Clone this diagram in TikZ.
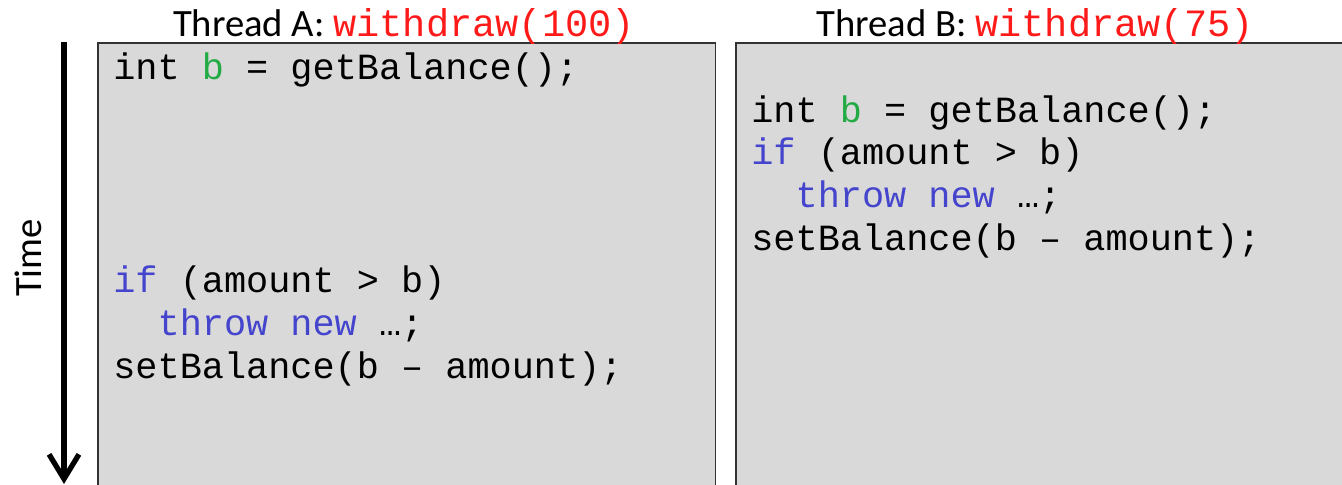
\documentclass[tikz,border=0pt]{standalone}
\usepackage{fontspec}
\setmainfont{Carlito}
\setmonofont{Liberation Mono}
\usetikzlibrary{arrows.meta}
\definecolor{boxgray}{HTML}{D9D9D9}
\definecolor{boxline}{HTML}{333333}
\definecolor{callred}{HTML}{FF1A1A}
\definecolor{kwblue}{HTML}{4444CC}
\definecolor{vargreen}{HTML}{22AA44}
\newcommand{\kw}[1]{\textcolor{kwblue}{#1}}
\newcommand{\var}[1]{\textcolor{vargreen}{#1}}
\tikzset{
  threadbox/.style={draw=boxline, line width=0.9pt, fill=boxgray, anchor=north west, minimum height=9.4cm, inner sep=0pt},
  threadtitle/.style={anchor=base, inner sep=0pt, font=\fontsize{22}{26}\selectfont},
  codeline/.style={anchor=base west, inner sep=0pt, font=\fontsize{21}{25}\selectfont\ttfamily},
  timearrow/.style={line width=3.4pt, -{Straight Barb[length=14pt, width=17pt, line width=3pt]}}
}
\begin{document}
\begin{tikzpicture}[x=0.02cm, y=-0.02cm]
\useasboundingbox (0,0) rectangle (1342,484);
% thread boxes
\node[threadbox, minimum width=12.36cm] (boxA) at (97,42) {};
\node[threadbox, minimum width=12.5cm] (boxB) at (735,42) {};
% titles
\node[threadtitle] (titleA) at (404,36) {Thread A: \texttt{\textcolor{callred}{withdraw(100)}}};
\node[threadtitle] (titleB) at (1035,36) {Thread B: \texttt{\textcolor{callred}{withdraw(75)}}};
% time axis
\coordinate (tstart) at (64,42);
\coordinate (tend) at (64,484);
\draw[timearrow] (tstart) -- (tend);
\node[rotate=90, font=\fontsize{22}{26}\selectfont] (time) at (28,258) {Time};
% code of thread A
\node[codeline] (a1) at (113,79) {int \var{b} = getBalance();};
\node[codeline] (a2) at (113,292) {\kw{if} (amount > b)};
\node[codeline] (a3) at (113,335) {\ \ \kw{throw new} …;};
\node[codeline] (a4) at (113,378) {setBalance(b – amount);};
% code of thread B
\node[codeline] (b1) at (751,122) {int \var{b} = getBalance();};
\node[codeline] (b2) at (751,164) {\kw{if} (amount > b)};
\node[codeline] (b3) at (751,207) {\ \ \kw{throw new} …;};
\node[codeline] (b4) at (751,250) {setBalance(b – amount);};
\end{tikzpicture}
\end{document}
